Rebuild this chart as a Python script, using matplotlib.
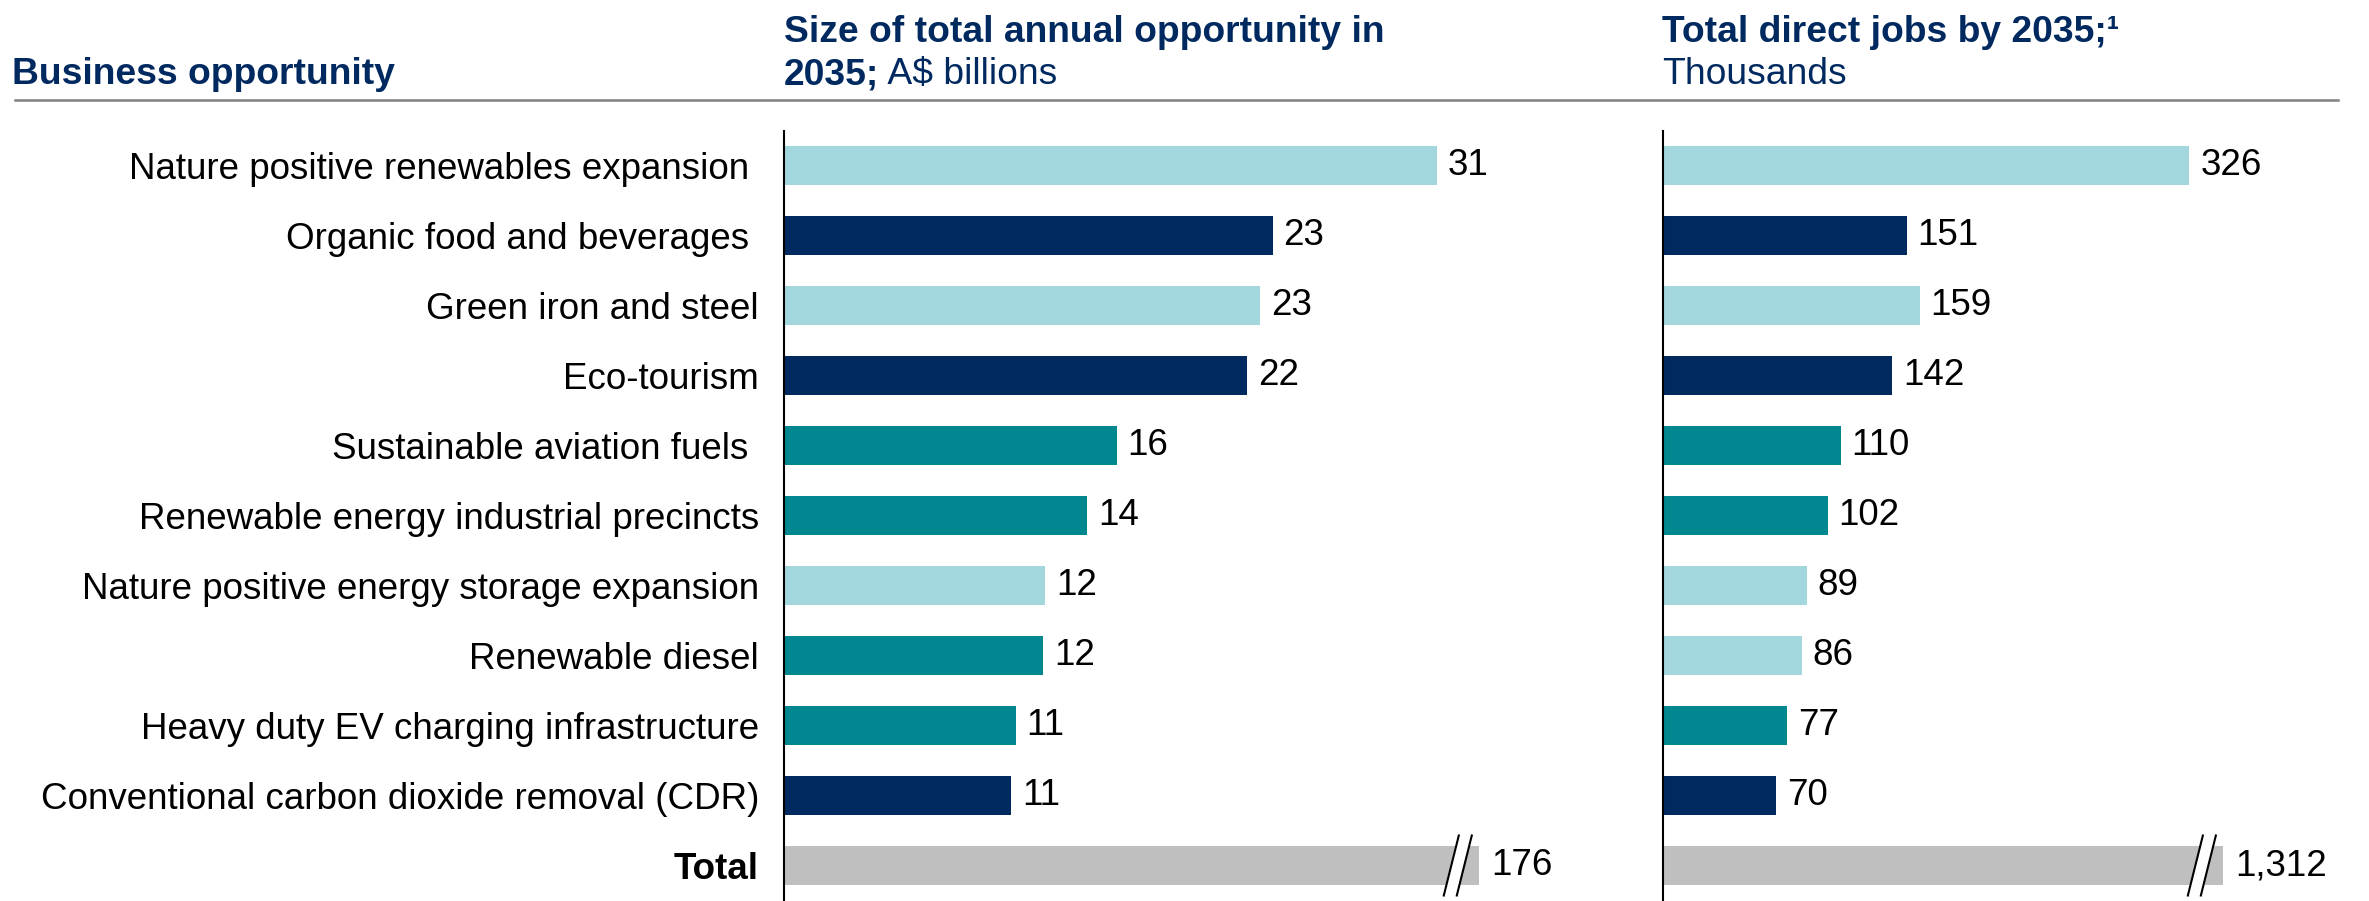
import matplotlib.pyplot as plt
from matplotlib.lines import Line2D
from matplotlib.patches import Polygon
from matplotlib.transforms import IdentityTransform

# chart data
categories = [
    "Nature positive renewables expansion ",
    "Organic food and beverages ",
    "Green iron and steel",
    "Eco-tourism",
    "Sustainable aviation fuels ",
    "Renewable energy industrial precincts",
    "Nature positive energy storage expansion",
    "Renewable diesel",
    "Heavy duty EV charging infrastructure",
    "Conventional carbon dioxide removal (CDR)",
]
opportunity = [31.0, 23.2, 22.6, 22.0, 15.8, 14.4, 12.4, 12.3, 11.0, 10.8]  # A$ billions
opportunity_total = 176
jobs = [326, 151, 159, 142, 110, 102, 89, 86, 77, 70]  # thousands
jobs_total = 1312

LIGHT = "#A2D7DD"
NAVY = "#002960"
TEAL = "#00878F"
GREY = "#BFBFBF"
opp_colors = [LIGHT, NAVY, LIGHT, NAVY, TEAL, TEAL, LIGHT, TEAL, TEAL, NAVY]
jobs_colors = [LIGHT, NAVY, LIGHT, NAVY, TEAL, TEAL, LIGHT, LIGHT, TEAL, NAVY]

W, H = 2369, 901
plt.rcParams['font.family'] = ['Liberation Sans', 'DejaVu Sans']

fig = plt.figure(figsize=(W / 100, H / 100), dpi=100)


def frac(x0, y0, x1, y1):
    # pixel box (top-left origin) -> figure fraction rect
    return [x0 / W, 1 - y1 / H, (x1 - x0) / W, (y1 - y0) / H]


ROW0, ROWSTEP = 165.5, 70.0   # px centre of first row, row spacing
TOP, BOTTOM = 131, 901
n = len(categories) + 1
ylim = ((BOTTOM - ROW0) / ROWSTEP, (TOP - ROW0) / ROWSTEP)

ax1 = fig.add_axes(frac(784, TOP, 1560, BOTTOM))
ax2 = fig.add_axes(frac(1663, TOP, 2369, BOTTOM))

BREAK = 1.065  # broken total bar length relative to largest bar
FS = 26.5


def draw_panel(ax, values, colors, total, total_txt, px_per_unit, fmt):
    width_px = ax.get_position().width * W
    ax.set_xlim(0, width_px / px_per_unit)
    ax.set_ylim(*ylim)
    rows = list(range(len(values)))
    ax.barh(rows, values, height=0.557, color=colors, zorder=2)
    for r, v in zip(rows, values):
        ax.annotate(fmt(v), (v, r), xytext=(11, 0), textcoords='offset pixels',
                    va='center', ha='left', fontsize=FS, color='black')
    cap = max(values) * BREAK
    tr = len(values)
    ax.barh([tr], [cap], height=0.557, color=GREY, zorder=2)
    ax.annotate(total_txt, (cap, tr), xytext=(12, 0), textcoords='offset pixels',
                va='center', ha='left', fontsize=FS, color='black')
    for s in ['top', 'right', 'bottom']:
        ax.spines[s].set_visible(False)
    ax.spines['left'].set_linewidth(1.5)
    ax.spines['left'].set_color('black')
    ax.set_xticks([])
    ax.tick_params(axis='y', length=0)
    return cap, tr


cap1, tr = draw_panel(ax1, opportunity, opp_colors, opportunity_total,
                      f"{opportunity_total:,}", 21.06, lambda v: f"{v:.0f}")
cap2, _ = draw_panel(ax2, jobs, jobs_colors, jobs_total,
                     f"{jobs_total:,}", 1.614, lambda v: f"{v:,.0f}")

ax1.set_yticks(range(n))
ax1.set_yticklabels(categories + ["Total"], fontsize=FS, color='black')
ax1.get_yticklabels()[-1].set_fontweight('bold')
ax1.tick_params(axis='y', pad=18)
ax2.set_yticks([])

# axis-break marks on the total bars
fig.canvas.draw()
for ax, cap in [(ax1, cap1), (ax2, cap2)]:
    ex, ey = ax.transData.transform((cap, tr))
    pts = []
    for off in (-28, -15):
        cx = ex + off
        pts.append(((cx - 7.5, ey - 30), (cx + 7.5, ey + 30)))
    (a0, a1), (b0, b1) = pts
    fig.add_artist(Polygon([a0, a1, b1, b0], closed=True, facecolor='white',
                           edgecolor='none', transform=IdentityTransform(), zorder=5))
    for p0, p1 in pts:
        fig.add_artist(Line2D([p0[0], p1[0]], [p0[1], p1[1]], color='black', lw=1.5,
                              transform=IdentityTransform(), zorder=6))

# headers
hdr = dict(color=NAVY, fontsize=26.8, transform=IdentityTransform())


def put(x, y, s, **kw):
    opts = dict(hdr)
    opts.update(kw)
    return fig.text(x, H - y, s, va='baseline', ha='left', parse_math=False, **opts)


put(12, 84, "Business opportunity", fontweight='bold')
put(784, 42, "Size of total annual opportunity in", fontweight='bold')
t = put(784, 84, "2035;", fontweight='bold')
fig.canvas.draw()
bb = t.get_window_extent()
put(bb.x1, 84, " A$ billions")
put(1662, 42, "Total direct jobs by 2035;\u00b9", fontweight='bold')
put(1662, 84, "Thousands")

fig.add_artist(Line2D([15, 2338], [H - 100, H - 100], color='#808080', lw=1.8,
                      transform=IdentityTransform()))

fig.savefig("out.png", dpi=100)
